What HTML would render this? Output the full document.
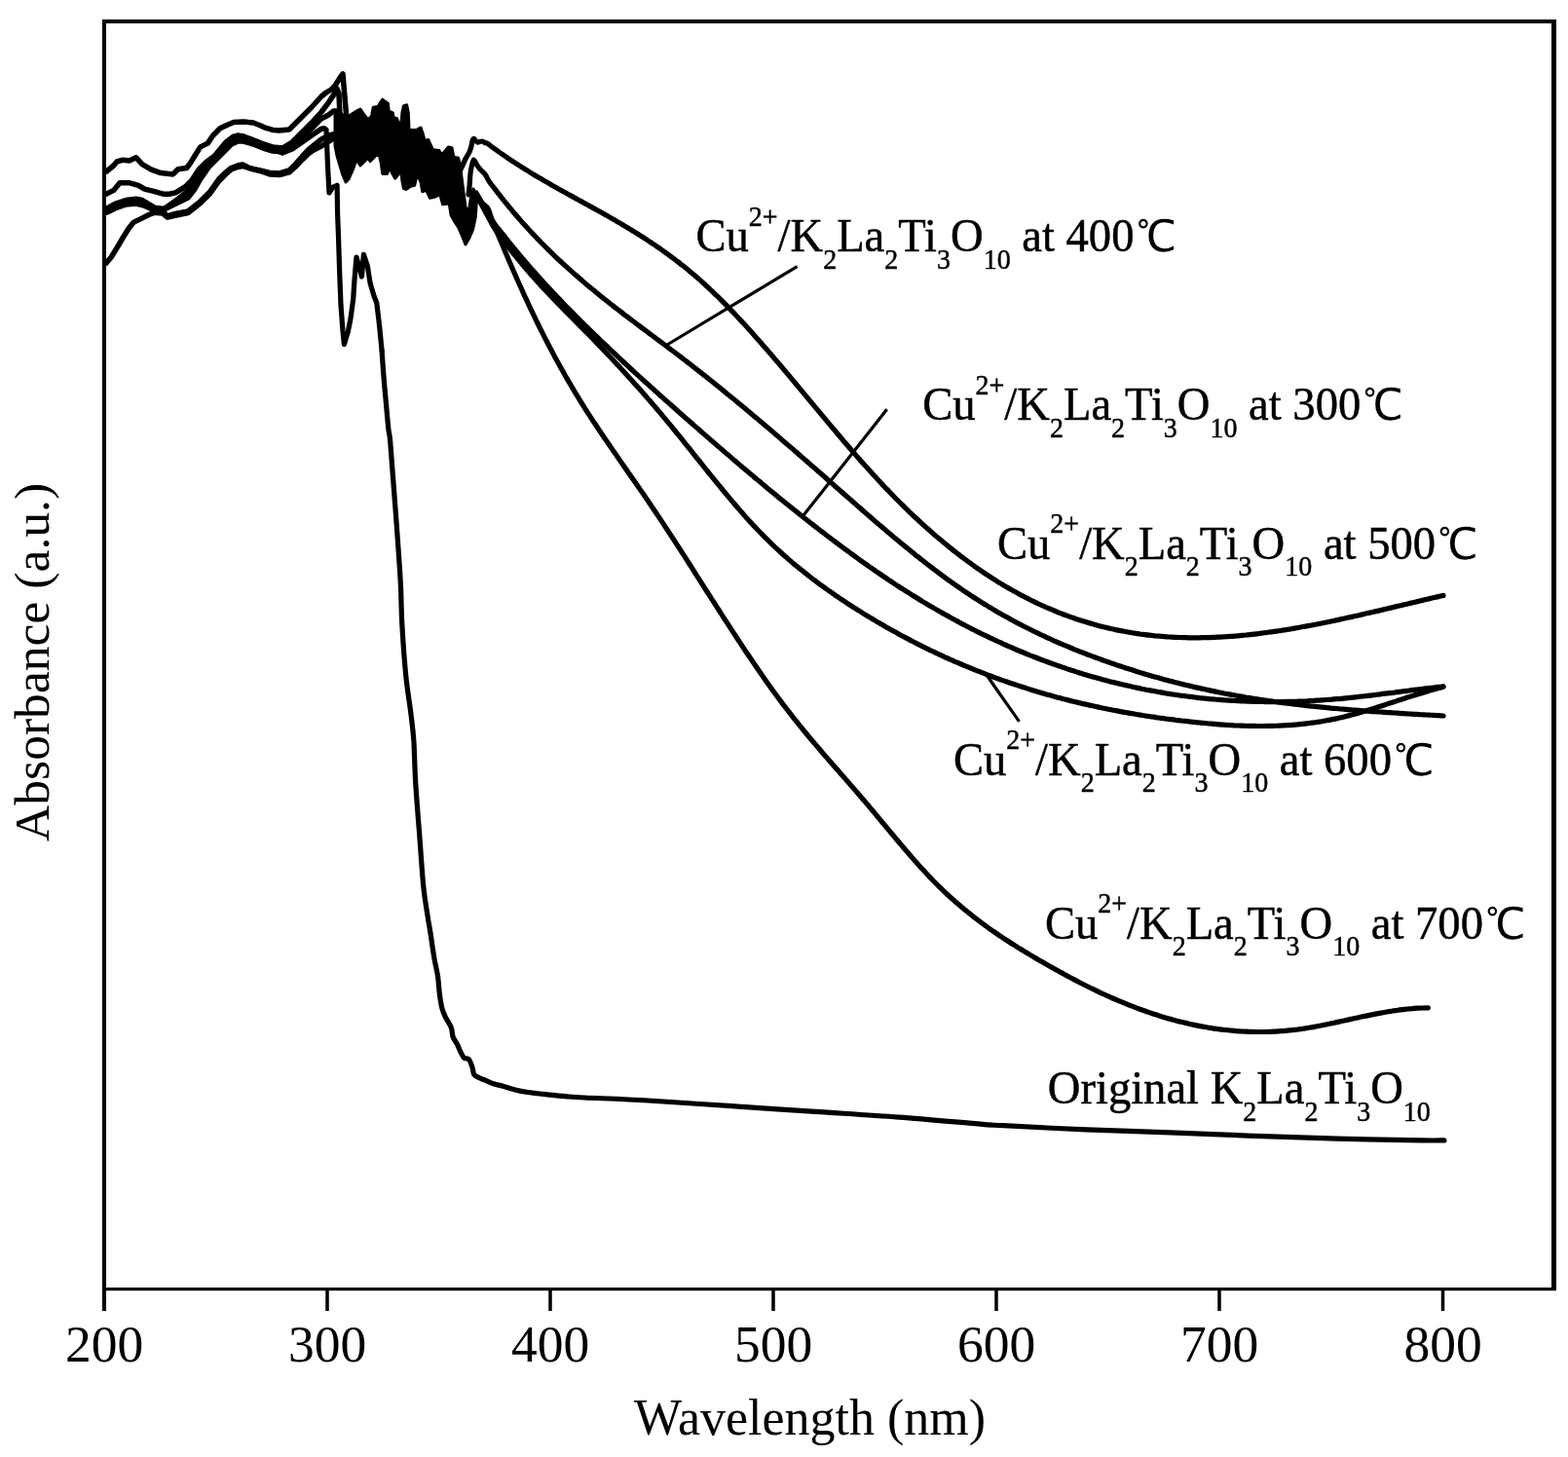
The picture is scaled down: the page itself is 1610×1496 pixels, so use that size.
<!DOCTYPE html>
<html><head><meta charset="utf-8"><title>UV-Vis absorbance spectra</title>
<style>
html,body{margin:0;padding:0;background:#fff;}
body{width:1610px;height:1496px;overflow:hidden;}
svg{display:block;}
.cjk{font-family:'WenQuanYi Zen Hei','Noto Serif CJK SC',sans-serif;}
</style></head>
<body>
<svg width="1610" height="1496" viewBox="0 0 1610 1496">
<rect x="0" y="0" width="1610" height="1496" fill="#fff"/>
<defs><clipPath id="plot"><rect x="108" y="23" width="1486" height="1300"/></clipPath></defs>
<g fill="#000">
<rect x="105" y="20" width="1493" height="4"/>
<rect x="105" y="20" width="4" height="1326"/>
<rect x="1593" y="20" width="5" height="1305"/>
<rect x="105" y="1322" width="1493" height="3.2"/>
<rect x="334.25" y="1324" width="3.5" height="22"/>
<rect x="563.25" y="1324" width="3.5" height="22"/>
<rect x="792.25" y="1324" width="3.5" height="22"/>
<rect x="1021.25" y="1324" width="3.5" height="22"/>
<rect x="1250.25" y="1324" width="3.5" height="22"/>
<rect x="1479.75" y="1324" width="3.5" height="22"/>
</g>
<g font-family="'Liberation Serif', 'Times New Roman', 'Noto Serif CJK SC', serif" font-size="53.5" text-anchor="middle" fill="#000">
<text x="107" y="1398">200</text>
<text x="336" y="1398">300</text>
<text x="565" y="1398">400</text>
<text x="794" y="1398">500</text>
<text x="1023" y="1398">600</text>
<text x="1252" y="1398">700</text>
<text x="1481.5" y="1398">800</text>
</g>
<text x="651" y="1472.6" font-family="'Liberation Serif', 'Times New Roman', 'Noto Serif CJK SC', serif" font-size="52" fill="#000">Wavelength (nm)</text>
<text transform="translate(50,864) rotate(-90)" x="0" y="0" font-family="'Liberation Serif', 'Times New Roman', 'Noto Serif CJK SC', serif" font-size="51.6" fill="#000">Absorbance (a.u.)</text>
<g fill="none" stroke="#000" stroke-width="5.2" stroke-linejoin="round" stroke-linecap="round">
<path d="M470.0,180.0 C470.7,178.7 472.7,174.8 474.0,172.0 C475.3,169.2 476.7,165.7 478.0,163.0 C479.3,160.3 481.0,158.2 482.0,156.0 C483.0,153.8 483.5,152.0 484.0,150.0 C484.5,148.0 484.7,145.2 485.2,144.0 C485.7,142.8 486.0,142.2 486.8,142.5 C487.6,142.8 488.7,145.6 490.0,146.0 C491.3,146.4 493.5,144.9 494.8,145.0 C496.1,145.1 497.1,146.1 498.0,146.5 C498.9,146.9 499.2,146.6 500.5,147.4 C501.8,148.1 503.8,149.9 505.5,151.1 C507.2,152.3 508.8,153.5 510.5,154.7 C512.2,155.9 513.8,157.1 515.5,158.2 C517.2,159.4 518.8,160.5 520.5,161.7 C522.2,162.8 523.8,163.9 525.5,165.0 C527.2,166.1 528.8,167.2 530.5,168.3 C532.2,169.4 533.8,170.4 535.5,171.5 C537.2,172.5 538.8,173.6 540.5,174.6 C542.2,175.6 543.8,176.7 545.5,177.7 C547.2,178.7 548.8,179.7 550.5,180.7 C552.2,181.7 553.8,182.6 555.5,183.6 C557.2,184.6 558.8,185.6 560.5,186.5 C562.2,187.5 563.8,188.5 565.5,189.4 C567.2,190.4 568.8,191.3 570.5,192.2 C572.2,193.2 573.8,194.1 575.5,195.1 C577.2,196.0 578.8,196.9 580.5,197.8 C582.2,198.8 583.8,199.7 585.5,200.6 C587.2,201.5 588.8,202.4 590.5,203.4 C592.2,204.3 593.8,205.2 595.5,206.1 C597.2,207.0 598.8,207.9 600.5,208.9 C602.2,209.8 603.8,210.7 605.5,211.6 C607.2,212.5 608.8,213.4 610.5,214.4 C612.2,215.3 613.8,216.2 615.5,217.1 C617.2,218.1 618.8,219.0 620.5,219.9 C622.2,220.9 623.8,221.8 625.5,222.8 C627.2,223.7 628.8,224.7 630.5,225.6 C632.2,226.6 633.8,227.6 635.5,228.5 C637.2,229.5 638.8,230.5 640.5,231.5 C642.2,232.5 643.8,233.5 645.5,234.5 C647.2,235.5 648.8,236.5 650.5,237.5 C652.2,238.5 653.8,239.6 655.5,240.6 C657.2,241.7 658.8,242.7 660.5,243.8 C662.2,244.9 663.8,246.0 665.5,247.1 C667.2,248.2 668.8,249.3 670.5,250.4 C672.2,251.5 673.8,252.6 675.5,253.8 C677.2,254.9 678.8,256.1 680.5,257.3 C682.2,258.5 683.8,259.7 685.5,260.9 C687.2,262.1 688.8,263.3 690.5,264.6 C692.2,265.8 693.8,267.1 695.5,268.4 C697.2,269.7 698.8,271.0 700.5,272.3 C702.2,273.6 703.8,274.9 705.5,276.3 C707.2,277.7 708.8,279.1 710.5,280.5 C712.2,281.9 713.8,283.3 715.5,284.7 C717.2,286.2 718.8,287.7 720.5,289.1 C722.2,290.6 723.8,292.2 725.5,293.7 C727.2,295.2 728.8,296.8 730.5,298.4 C732.2,300.0 733.8,301.6 735.5,303.2 C737.2,304.8 738.8,306.4 740.5,308.1 C742.2,309.8 743.8,311.4 745.5,313.1 C747.2,314.8 748.8,316.6 750.5,318.3 C752.2,320.0 753.8,321.8 755.5,323.5 C757.2,325.3 758.8,327.1 760.5,328.9 C762.2,330.7 763.8,332.5 765.5,334.3 C767.2,336.1 768.8,338.0 770.5,339.8 C772.2,341.7 773.8,343.5 775.5,345.4 C777.2,347.3 778.8,349.2 780.5,351.1 C782.2,353.0 783.8,354.9 785.5,356.8 C787.2,358.7 788.8,360.6 790.5,362.6 C792.2,364.5 793.8,366.4 795.5,368.4 C797.2,370.3 798.8,372.3 800.5,374.3 C802.2,376.2 803.8,378.2 805.5,380.2 C807.2,382.2 808.8,384.1 810.5,386.1 C812.2,388.1 813.8,390.1 815.5,392.1 C817.2,394.1 818.8,396.1 820.5,398.1 C822.2,400.1 823.8,402.1 825.5,404.1 C827.2,406.1 828.8,408.1 830.5,410.1 C832.2,412.1 833.8,414.1 835.5,416.1 C837.2,418.1 838.8,420.1 840.5,422.1 C842.2,424.1 843.8,426.1 845.5,428.1 C847.2,430.1 848.8,432.1 850.5,434.1 C852.2,436.1 853.8,438.1 855.5,440.1 C857.2,442.0 858.8,444.0 860.5,446.0 C862.2,447.9 863.8,449.9 865.5,451.9 C867.2,453.8 868.8,455.8 870.5,457.7 C872.2,459.7 873.8,461.6 875.5,463.5 C877.2,465.4 878.8,467.3 880.5,469.2 C882.2,471.2 883.8,473.0 885.5,474.9 C887.2,476.8 888.8,478.7 890.5,480.5 C892.2,482.4 893.8,484.2 895.5,486.1 C897.2,487.9 898.8,489.7 900.5,491.5 C902.2,493.3 903.8,495.1 905.5,496.9 C907.2,498.7 908.8,500.5 910.5,502.2 C912.2,503.9 913.8,505.7 915.5,507.4 C917.2,509.1 918.8,510.8 920.5,512.5 C922.2,514.2 923.8,515.8 925.5,517.5 C927.2,519.1 928.8,520.8 930.5,522.4 C932.2,524.0 933.8,525.6 935.5,527.2 C937.2,528.8 938.8,530.4 940.5,531.9 C942.2,533.5 943.8,535.0 945.5,536.6 C947.2,538.1 948.8,539.6 950.5,541.1 C952.2,542.6 953.8,544.1 955.5,545.5 C957.2,547.0 958.8,548.5 960.5,549.9 C962.2,551.3 963.8,552.7 965.5,554.1 C967.2,555.5 968.8,556.9 970.5,558.3 C972.2,559.7 973.8,561.0 975.5,562.4 C977.2,563.7 978.8,565.0 980.5,566.3 C982.2,567.7 983.8,568.9 985.5,570.2 C987.2,571.5 988.8,572.8 990.5,574.0 C992.2,575.3 993.8,576.5 995.5,577.7 C997.2,578.9 998.8,580.1 1000.5,581.3 C1002.2,582.5 1003.8,583.7 1005.5,584.8 C1007.2,586.0 1008.8,587.1 1010.5,588.2 C1012.2,589.3 1013.8,590.4 1015.5,591.5 C1017.2,592.6 1018.8,593.7 1020.5,594.8 C1022.2,595.8 1023.8,596.9 1025.5,597.9 C1027.2,598.9 1028.8,599.9 1030.5,600.9 C1032.2,601.9 1033.8,602.9 1035.5,603.9 C1037.2,604.8 1038.8,605.8 1040.5,606.7 C1042.2,607.6 1043.8,608.6 1045.5,609.5 C1047.2,610.4 1048.8,611.3 1050.5,612.1 C1052.2,613.0 1053.8,613.9 1055.5,614.7 C1057.2,615.5 1058.8,616.4 1060.5,617.2 C1062.2,618.0 1063.8,618.8 1065.5,619.6 C1067.2,620.4 1068.8,621.1 1070.5,621.9 C1072.2,622.6 1073.8,623.4 1075.5,624.1 C1077.2,624.8 1078.8,625.5 1080.5,626.2 C1082.2,626.9 1083.8,627.6 1085.5,628.3 C1087.2,629.0 1088.8,629.6 1090.5,630.3 C1092.2,630.9 1093.8,631.5 1095.5,632.1 C1097.2,632.8 1098.8,633.4 1100.5,633.9 C1102.2,634.5 1103.8,635.1 1105.5,635.7 C1107.2,636.2 1108.8,636.8 1110.5,637.3 C1112.2,637.8 1113.8,638.3 1115.5,638.8 C1117.2,639.4 1118.8,639.8 1120.5,640.3 C1122.2,640.8 1123.8,641.3 1125.5,641.7 C1127.2,642.2 1128.8,642.6 1130.5,643.1 C1132.2,643.5 1133.8,643.9 1135.5,644.3 C1137.2,644.7 1138.8,645.1 1140.5,645.5 C1142.2,645.8 1143.8,646.2 1145.5,646.6 C1147.2,646.9 1148.8,647.3 1150.5,647.6 C1152.2,647.9 1153.8,648.2 1155.5,648.5 C1157.2,648.8 1158.8,649.1 1160.5,649.4 C1162.2,649.7 1163.8,650.0 1165.5,650.2 C1167.2,650.5 1168.8,650.7 1170.5,651.0 C1172.2,651.2 1173.8,651.4 1175.5,651.6 C1177.2,651.9 1178.8,652.1 1180.5,652.2 C1182.2,652.4 1183.8,652.6 1185.5,652.8 C1187.2,652.9 1188.8,653.1 1190.5,653.2 C1192.2,653.4 1193.8,653.5 1195.5,653.6 C1197.2,653.8 1198.8,653.9 1200.5,654.0 C1202.2,654.1 1203.8,654.2 1205.5,654.3 C1207.2,654.4 1208.8,654.4 1210.5,654.5 C1212.2,654.6 1213.8,654.6 1215.5,654.6 C1217.2,654.7 1218.8,654.7 1220.5,654.8 C1222.2,654.8 1223.8,654.8 1225.5,654.8 C1227.2,654.8 1228.8,654.8 1230.5,654.8 C1232.2,654.8 1233.8,654.8 1235.5,654.7 C1237.2,654.7 1238.8,654.7 1240.5,654.6 C1242.2,654.6 1243.8,654.5 1245.5,654.4 C1247.2,654.4 1248.8,654.3 1250.5,654.2 C1252.2,654.1 1253.8,654.0 1255.5,653.9 C1257.2,653.9 1258.8,653.7 1260.5,653.6 C1262.2,653.5 1263.8,653.4 1265.5,653.3 C1267.2,653.1 1268.8,653.0 1270.5,652.9 C1272.2,652.7 1273.8,652.6 1275.5,652.4 C1277.2,652.3 1278.8,652.1 1280.5,651.9 C1282.2,651.7 1283.8,651.6 1285.5,651.4 C1287.2,651.2 1288.8,651.0 1290.5,650.8 C1292.2,650.6 1293.8,650.4 1295.5,650.2 C1297.2,650.0 1298.8,649.8 1300.5,649.5 C1302.2,649.3 1303.8,649.1 1305.5,648.8 C1307.2,648.6 1308.8,648.4 1310.5,648.1 C1312.2,647.9 1313.8,647.6 1315.5,647.4 C1317.2,647.1 1318.8,646.8 1320.5,646.6 C1322.2,646.3 1323.8,646.0 1325.5,645.8 C1327.2,645.5 1328.8,645.2 1330.5,644.9 C1332.2,644.6 1333.8,644.3 1335.5,644.0 C1337.2,643.7 1338.8,643.4 1340.5,643.1 C1342.2,642.8 1343.8,642.5 1345.5,642.2 C1347.2,641.9 1348.8,641.5 1350.5,641.2 C1352.2,640.9 1353.8,640.6 1355.5,640.2 C1357.2,639.9 1358.8,639.6 1360.5,639.2 C1362.2,638.9 1363.8,638.6 1365.5,638.2 C1367.2,637.9 1368.8,637.5 1370.5,637.2 C1372.2,636.8 1373.8,636.5 1375.5,636.1 C1377.2,635.7 1378.8,635.4 1380.5,635.0 C1382.2,634.7 1383.8,634.3 1385.5,633.9 C1387.2,633.5 1388.8,633.2 1390.5,632.8 C1392.2,632.4 1393.8,632.1 1395.5,631.7 C1397.2,631.3 1398.8,630.9 1400.5,630.5 C1402.2,630.2 1403.8,629.8 1405.5,629.4 C1407.2,629.0 1408.8,628.6 1410.5,628.2 C1412.2,627.8 1413.8,627.5 1415.5,627.1 C1417.2,626.7 1418.8,626.3 1420.5,625.9 C1422.2,625.5 1423.8,625.1 1425.5,624.7 C1427.2,624.3 1428.8,623.9 1430.5,623.5 C1432.2,623.1 1433.8,622.7 1435.5,622.3 C1437.2,621.9 1438.8,621.5 1440.5,621.1 C1442.2,620.8 1443.8,620.4 1445.5,620.0 C1447.2,619.6 1448.8,619.2 1450.5,618.8 C1452.2,618.4 1453.8,618.0 1455.5,617.6 C1457.2,617.2 1458.8,616.8 1460.5,616.4 C1462.2,616.0 1463.8,615.6 1465.5,615.2 C1467.2,614.8 1468.8,614.4 1470.5,614.0 C1472.2,613.6 1473.8,613.3 1475.5,612.9 C1477.2,612.5 1479.4,612.0 1480.5,611.7 C1481.6,611.5 1481.8,611.4 1482.0,611.4"/>
<path d="M481.0,200.0 C481.2,198.7 481.7,195.3 482.0,192.0 C482.3,188.7 482.5,183.3 482.8,180.0 C483.1,176.7 483.4,174.7 484.0,172.0 C484.6,169.3 485.4,164.3 486.4,164.0 C487.4,163.7 488.7,168.2 490.0,170.0 C491.3,171.8 492.7,173.4 494.0,174.9 C495.3,176.4 496.6,177.0 498.0,178.9 C499.4,180.8 500.6,183.8 502.1,186.1 C503.6,188.4 505.4,190.6 507.1,192.7 C508.8,194.9 510.4,197.1 512.1,199.2 C513.8,201.4 515.4,203.5 517.1,205.6 C518.8,207.6 520.4,209.7 522.1,211.7 C523.8,213.7 525.4,215.7 527.1,217.7 C528.8,219.7 530.4,221.6 532.1,223.5 C533.8,225.4 535.4,227.3 537.1,229.2 C538.8,231.1 540.4,232.9 542.1,234.7 C543.8,236.5 545.4,238.3 547.1,240.1 C548.8,241.9 550.4,243.6 552.1,245.4 C553.8,247.1 555.4,248.8 557.1,250.5 C558.8,252.2 560.4,253.8 562.1,255.5 C563.8,257.1 565.4,258.8 567.1,260.4 C568.8,262.0 570.4,263.6 572.1,265.2 C573.8,266.7 575.4,268.3 577.1,269.8 C578.8,271.4 580.4,272.9 582.1,274.4 C583.8,275.9 585.4,277.4 587.1,278.9 C588.8,280.4 590.4,281.8 592.1,283.3 C593.8,284.8 595.4,286.2 597.1,287.6 C598.8,289.1 600.4,290.5 602.1,291.9 C603.8,293.3 605.4,294.7 607.1,296.0 C608.8,297.4 610.4,298.8 612.1,300.2 C613.8,301.5 615.4,302.9 617.1,304.2 C618.8,305.6 620.4,306.9 622.1,308.2 C623.8,309.5 625.4,310.9 627.1,312.2 C628.8,313.5 630.4,314.8 632.1,316.1 C633.8,317.4 635.4,318.6 637.1,319.9 C638.8,321.2 640.4,322.5 642.1,323.8 C643.8,325.0 645.4,326.3 647.1,327.6 C648.8,328.8 650.4,330.1 652.1,331.3 C653.8,332.6 655.4,333.8 657.1,335.1 C658.8,336.4 660.4,337.6 662.1,338.8 C663.8,340.1 665.4,341.3 667.1,342.6 C668.8,343.8 670.4,345.1 672.1,346.3 C673.8,347.6 675.4,348.8 677.1,350.1 C678.8,351.3 680.4,352.6 682.1,353.8 C683.8,355.1 685.4,356.3 687.1,357.6 C688.8,358.8 690.4,360.1 692.1,361.3 C693.8,362.6 695.4,363.9 697.1,365.1 C698.8,366.4 700.4,367.7 702.1,369.0 C703.8,370.2 705.4,371.5 707.1,372.8 C708.8,374.1 710.4,375.4 712.1,376.7 C713.8,378.0 715.4,379.3 717.1,380.6 C718.8,381.9 720.4,383.2 722.1,384.6 C723.8,385.9 725.4,387.2 727.1,388.5 C728.8,389.9 730.4,391.2 732.1,392.5 C733.8,393.9 735.4,395.2 737.1,396.5 C738.8,397.9 740.4,399.2 742.1,400.6 C743.8,401.9 745.4,403.3 747.1,404.7 C748.8,406.0 750.4,407.4 752.1,408.8 C753.8,410.1 755.4,411.5 757.1,412.9 C758.8,414.3 760.4,415.6 762.1,417.0 C763.8,418.4 765.4,419.8 767.1,421.2 C768.8,422.6 770.4,424.0 772.1,425.4 C773.8,426.8 775.4,428.2 777.1,429.6 C778.8,431.0 780.4,432.4 782.1,433.8 C783.8,435.2 785.4,436.6 787.1,438.0 C788.8,439.4 790.4,440.9 792.1,442.3 C793.8,443.7 795.4,445.1 797.1,446.6 C798.8,448.0 800.4,449.4 802.1,450.9 C803.8,452.3 805.4,453.7 807.1,455.2 C808.8,456.6 810.4,458.0 812.1,459.5 C813.8,460.9 815.4,462.4 817.1,463.8 C818.8,465.3 820.4,466.7 822.1,468.2 C823.8,469.6 825.4,471.1 827.1,472.5 C828.8,474.0 830.4,475.4 832.1,476.9 C833.8,478.3 835.4,479.8 837.1,481.3 C838.8,482.7 840.4,484.2 842.1,485.6 C843.8,487.1 845.4,488.6 847.1,490.0 C848.8,491.5 850.4,493.0 852.1,494.4 C853.8,495.9 855.4,497.4 857.1,498.9 C858.8,500.3 860.4,501.8 862.1,503.3 C863.8,504.7 865.4,506.2 867.1,507.7 C868.8,509.1 870.4,510.6 872.1,512.1 C873.8,513.5 875.4,515.0 877.1,516.4 C878.8,517.9 880.4,519.4 882.1,520.8 C883.8,522.3 885.4,523.7 887.1,525.2 C888.8,526.6 890.4,528.1 892.1,529.5 C893.8,531.0 895.4,532.4 897.1,533.9 C898.8,535.3 900.4,536.7 902.1,538.2 C903.8,539.6 905.4,541.0 907.1,542.4 C908.8,543.9 910.4,545.3 912.1,546.7 C913.8,548.1 915.4,549.5 917.1,550.9 C918.8,552.3 920.4,553.7 922.1,555.1 C923.8,556.5 925.4,557.8 927.1,559.2 C928.8,560.6 930.4,562.0 932.1,563.3 C933.8,564.7 935.4,566.0 937.1,567.4 C938.8,568.7 940.4,570.1 942.1,571.4 C943.8,572.7 945.4,574.0 947.1,575.3 C948.8,576.7 950.4,578.0 952.1,579.3 C953.8,580.5 955.4,581.8 957.1,583.1 C958.8,584.4 960.4,585.6 962.1,586.9 C963.8,588.2 965.4,589.4 967.1,590.6 C968.8,591.9 970.4,593.1 972.1,594.3 C973.8,595.5 975.4,596.7 977.1,597.9 C978.8,599.1 980.4,600.3 982.1,601.4 C983.8,602.6 985.4,603.8 987.1,604.9 C988.8,606.0 990.4,607.2 992.1,608.3 C993.8,609.4 995.4,610.5 997.1,611.6 C998.8,612.7 1000.4,613.8 1002.1,614.8 C1003.8,615.9 1005.4,616.9 1007.1,618.0 C1008.8,619.0 1010.4,620.1 1012.1,621.1 C1013.8,622.1 1015.4,623.1 1017.1,624.1 C1018.8,625.1 1020.4,626.1 1022.1,627.1 C1023.8,628.0 1025.4,629.0 1027.1,630.0 C1028.8,630.9 1030.4,631.9 1032.1,632.8 C1033.8,633.7 1035.4,634.6 1037.1,635.6 C1038.8,636.5 1040.4,637.4 1042.1,638.3 C1043.8,639.1 1045.4,640.0 1047.1,640.9 C1048.8,641.8 1050.4,642.6 1052.1,643.5 C1053.8,644.3 1055.4,645.2 1057.1,646.0 C1058.8,646.8 1060.4,647.6 1062.1,648.5 C1063.8,649.3 1065.4,650.1 1067.1,650.9 C1068.8,651.7 1070.4,652.5 1072.1,653.2 C1073.8,654.0 1075.4,654.8 1077.1,655.5 C1078.8,656.3 1080.4,657.0 1082.1,657.8 C1083.8,658.5 1085.4,659.3 1087.1,660.0 C1088.8,660.7 1090.4,661.4 1092.1,662.1 C1093.8,662.8 1095.4,663.5 1097.1,664.2 C1098.8,664.9 1100.4,665.6 1102.1,666.3 C1103.8,667.0 1105.4,667.6 1107.1,668.3 C1108.8,669.0 1110.4,669.6 1112.1,670.3 C1113.8,670.9 1115.4,671.6 1117.1,672.2 C1118.8,672.8 1120.4,673.5 1122.1,674.1 C1123.8,674.7 1125.4,675.3 1127.1,675.9 C1128.8,676.5 1130.4,677.1 1132.1,677.7 C1133.8,678.3 1135.4,678.9 1137.1,679.5 C1138.8,680.1 1140.4,680.7 1142.1,681.3 C1143.8,681.8 1145.4,682.4 1147.1,683.0 C1148.8,683.5 1150.4,684.1 1152.1,684.6 C1153.8,685.2 1155.4,685.7 1157.1,686.3 C1158.8,686.8 1160.4,687.3 1162.1,687.8 C1163.8,688.4 1165.4,688.9 1167.1,689.4 C1168.8,689.9 1170.4,690.4 1172.1,690.9 C1173.8,691.4 1175.4,691.9 1177.1,692.4 C1178.8,692.9 1180.4,693.4 1182.1,693.9 C1183.8,694.4 1185.4,694.9 1187.1,695.3 C1188.8,695.8 1190.4,696.3 1192.1,696.7 C1193.8,697.2 1195.4,697.6 1197.1,698.1 C1198.8,698.5 1200.4,699.0 1202.1,699.4 C1203.8,699.8 1205.4,700.3 1207.1,700.7 C1208.8,701.1 1210.4,701.6 1212.1,702.0 C1213.8,702.4 1215.4,702.8 1217.1,703.2 C1218.8,703.6 1220.4,704.0 1222.1,704.4 C1223.8,704.8 1225.4,705.2 1227.1,705.6 C1228.8,706.0 1230.4,706.3 1232.1,706.7 C1233.8,707.1 1235.4,707.5 1237.1,707.8 C1238.8,708.2 1240.4,708.5 1242.1,708.9 C1243.8,709.3 1245.4,709.6 1247.1,709.9 C1248.8,710.3 1250.4,710.6 1252.1,711.0 C1253.8,711.3 1255.4,711.6 1257.1,712.0 C1258.8,712.3 1260.4,712.6 1262.1,712.9 C1263.8,713.2 1265.4,713.5 1267.1,713.8 C1268.8,714.1 1270.4,714.4 1272.1,714.7 C1273.8,715.0 1275.4,715.3 1277.1,715.6 C1278.8,715.9 1280.4,716.2 1282.1,716.4 C1283.8,716.7 1285.4,717.0 1287.1,717.3 C1288.8,717.5 1290.4,717.8 1292.1,718.0 C1293.8,718.3 1295.4,718.6 1297.1,718.8 C1298.8,719.1 1300.4,719.3 1302.1,719.5 C1303.8,719.8 1305.4,720.0 1307.1,720.2 C1308.8,720.5 1310.4,720.7 1312.1,720.9 C1313.8,721.2 1315.4,721.4 1317.1,721.6 C1318.8,721.8 1320.4,722.0 1322.1,722.2 C1323.8,722.4 1325.4,722.7 1327.1,722.9 C1328.8,723.1 1330.4,723.3 1332.1,723.5 C1333.8,723.6 1335.4,723.8 1337.1,724.0 C1338.8,724.2 1340.4,724.4 1342.1,724.6 C1343.8,724.8 1345.4,724.9 1347.1,725.1 C1348.8,725.3 1350.4,725.5 1352.1,725.6 C1353.8,725.8 1355.4,726.0 1357.1,726.1 C1358.8,726.3 1360.4,726.5 1362.1,726.6 C1363.8,726.8 1365.4,726.9 1367.1,727.1 C1368.8,727.2 1370.4,727.4 1372.1,727.5 C1373.8,727.7 1375.4,727.8 1377.1,728.0 C1378.8,728.1 1380.4,728.3 1382.1,728.4 C1383.8,728.5 1385.4,728.7 1387.1,728.8 C1388.8,728.9 1390.4,729.1 1392.1,729.2 C1393.8,729.3 1395.4,729.5 1397.1,729.6 C1398.8,729.7 1400.4,729.8 1402.1,730.0 C1403.8,730.1 1405.4,730.2 1407.1,730.3 C1408.8,730.5 1410.4,730.6 1412.1,730.7 C1413.8,730.8 1415.4,730.9 1417.1,731.0 C1418.8,731.1 1420.4,731.3 1422.1,731.4 C1423.8,731.5 1425.4,731.6 1427.1,731.7 C1428.8,731.8 1430.4,731.9 1432.1,732.0 C1433.8,732.1 1435.4,732.2 1437.1,732.3 C1438.8,732.4 1440.4,732.5 1442.1,732.7 C1443.8,732.8 1445.4,732.9 1447.1,733.0 C1448.8,733.1 1450.4,733.2 1452.1,733.3 C1453.8,733.4 1455.4,733.5 1457.1,733.6 C1458.8,733.7 1460.4,733.8 1462.1,733.9 C1463.8,734.0 1465.4,734.0 1467.1,734.1 C1468.8,734.2 1470.4,734.3 1472.1,734.4 C1473.8,734.5 1475.4,734.6 1477.1,734.7 C1478.8,734.8 1481.2,735.0 1482.0,735.0"/>
<path d="M489.0,198.0 C492.0,203.1 503.2,222.4 507.0,228.6 C510.8,234.8 510.3,233.0 512.0,235.1 C513.7,237.3 515.3,239.4 517.0,241.5 C518.7,243.6 520.3,245.7 522.0,247.8 C523.7,249.9 525.3,251.9 527.0,254.0 C528.7,256.0 530.3,258.0 532.0,260.0 C533.7,262.0 535.3,264.0 537.0,265.9 C538.7,267.9 540.3,269.8 542.0,271.8 C543.7,273.7 545.3,275.6 547.0,277.5 C548.7,279.4 550.3,281.2 552.0,283.1 C553.7,285.0 555.3,286.8 557.0,288.6 C558.7,290.5 560.3,292.3 562.0,294.1 C563.7,295.9 565.3,297.7 567.0,299.5 C568.7,301.3 570.3,303.0 572.0,304.8 C573.7,306.5 575.3,308.3 577.0,310.0 C578.7,311.7 580.3,313.4 582.0,315.2 C583.7,316.9 585.3,318.6 587.0,320.2 C588.7,321.9 590.3,323.6 592.0,325.3 C593.7,327.0 595.3,328.6 597.0,330.3 C598.7,331.9 600.3,333.6 602.0,335.2 C603.7,336.8 605.3,338.5 607.0,340.1 C608.7,341.7 610.3,343.3 612.0,345.0 C613.7,346.6 615.3,348.2 617.0,349.8 C618.7,351.4 620.3,353.0 622.0,354.5 C623.7,356.1 625.3,357.7 627.0,359.3 C628.7,360.9 630.3,362.4 632.0,364.0 C633.7,365.6 635.3,367.1 637.0,368.7 C638.7,370.2 640.3,371.8 642.0,373.3 C643.7,374.9 645.3,376.4 647.0,378.0 C648.7,379.5 650.3,381.0 652.0,382.6 C653.7,384.1 655.3,385.6 657.0,387.1 C658.7,388.7 660.3,390.2 662.0,391.7 C663.7,393.2 665.3,394.7 667.0,396.2 C668.7,397.7 670.3,399.2 672.0,400.7 C673.7,402.2 675.3,403.7 677.0,405.2 C678.7,406.7 680.3,408.2 682.0,409.7 C683.7,411.1 685.3,412.6 687.0,414.1 C688.7,415.6 690.3,417.1 692.0,418.5 C693.7,420.0 695.3,421.5 697.0,423.0 C698.7,424.4 700.3,425.9 702.0,427.4 C703.7,428.8 705.3,430.3 707.0,431.8 C708.7,433.2 710.3,434.7 712.0,436.2 C713.7,437.6 715.3,439.1 717.0,440.5 C718.7,442.0 720.3,443.5 722.0,444.9 C723.7,446.4 725.3,447.8 727.0,449.3 C728.7,450.7 730.3,452.2 732.0,453.6 C733.7,455.1 735.3,456.5 737.0,457.9 C738.7,459.4 740.3,460.8 742.0,462.3 C743.7,463.7 745.3,465.1 747.0,466.6 C748.7,468.0 750.3,469.4 752.0,470.9 C753.7,472.3 755.3,473.7 757.0,475.1 C758.7,476.6 760.3,478.0 762.0,479.4 C763.7,480.8 765.3,482.2 767.0,483.6 C768.7,485.0 770.3,486.4 772.0,487.8 C773.7,489.2 775.3,490.6 777.0,492.0 C778.7,493.4 780.3,494.8 782.0,496.2 C783.7,497.6 785.3,499.0 787.0,500.4 C788.7,501.8 790.3,503.1 792.0,504.5 C793.7,505.9 795.3,507.3 797.0,508.6 C798.7,510.0 800.3,511.4 802.0,512.7 C803.7,514.1 805.3,515.4 807.0,516.8 C808.7,518.1 810.3,519.5 812.0,520.8 C813.7,522.2 815.3,523.5 817.0,524.8 C818.7,526.2 820.3,527.5 822.0,528.8 C823.7,530.1 825.3,531.5 827.0,532.8 C828.7,534.1 830.3,535.4 832.0,536.7 C833.7,538.0 835.3,539.3 837.0,540.6 C838.7,541.9 840.3,543.2 842.0,544.5 C843.7,545.8 845.3,547.0 847.0,548.3 C848.7,549.6 850.3,550.9 852.0,552.1 C853.7,553.4 855.3,554.6 857.0,555.9 C858.7,557.2 860.3,558.4 862.0,559.6 C863.7,560.9 865.3,562.1 867.0,563.4 C868.7,564.6 870.3,565.8 872.0,567.0 C873.7,568.2 875.3,569.5 877.0,570.7 C878.7,571.9 880.3,573.1 882.0,574.3 C883.7,575.5 885.3,576.6 887.0,577.8 C888.7,579.0 890.3,580.2 892.0,581.4 C893.7,582.5 895.3,583.7 897.0,584.8 C898.7,586.0 900.3,587.1 902.0,588.3 C903.7,589.4 905.3,590.6 907.0,591.7 C908.7,592.8 910.3,593.9 912.0,595.1 C913.7,596.2 915.3,597.3 917.0,598.4 C918.7,599.5 920.3,600.6 922.0,601.7 C923.7,602.7 925.3,603.8 927.0,604.9 C928.7,606.0 930.3,607.0 932.0,608.1 C933.7,609.1 935.3,610.2 937.0,611.2 C938.7,612.3 940.3,613.3 942.0,614.3 C943.7,615.4 945.3,616.4 947.0,617.4 C948.7,618.4 950.3,619.4 952.0,620.4 C953.7,621.4 955.3,622.4 957.0,623.3 C958.7,624.3 960.3,625.3 962.0,626.2 C963.7,627.2 965.3,628.2 967.0,629.1 C968.7,630.0 970.3,631.0 972.0,631.9 C973.7,632.8 975.3,633.8 977.0,634.7 C978.7,635.6 980.3,636.5 982.0,637.4 C983.7,638.3 985.3,639.2 987.0,640.1 C988.7,640.9 990.3,641.8 992.0,642.7 C993.7,643.6 995.3,644.4 997.0,645.3 C998.7,646.1 1000.3,647.0 1002.0,647.8 C1003.7,648.6 1005.3,649.4 1007.0,650.3 C1008.7,651.1 1010.3,651.9 1012.0,652.7 C1013.7,653.5 1015.3,654.3 1017.0,655.1 C1018.7,655.9 1020.3,656.7 1022.0,657.4 C1023.7,658.2 1025.3,659.0 1027.0,659.7 C1028.7,660.5 1030.3,661.2 1032.0,662.0 C1033.7,662.7 1035.3,663.5 1037.0,664.2 C1038.7,664.9 1040.3,665.6 1042.0,666.3 C1043.7,667.1 1045.3,667.8 1047.0,668.5 C1048.7,669.2 1050.3,669.8 1052.0,670.5 C1053.7,671.2 1055.3,671.9 1057.0,672.6 C1058.7,673.2 1060.3,673.9 1062.0,674.5 C1063.7,675.2 1065.3,675.8 1067.0,676.5 C1068.7,677.1 1070.3,677.7 1072.0,678.4 C1073.7,679.0 1075.3,679.6 1077.0,680.2 C1078.7,680.8 1080.3,681.4 1082.0,682.0 C1083.7,682.6 1085.3,683.2 1087.0,683.8 C1088.7,684.3 1090.3,684.9 1092.0,685.5 C1093.7,686.1 1095.3,686.6 1097.0,687.2 C1098.7,687.7 1100.3,688.3 1102.0,688.8 C1103.7,689.3 1105.3,689.9 1107.0,690.4 C1108.7,690.9 1110.3,691.4 1112.0,691.9 C1113.7,692.4 1115.3,692.9 1117.0,693.4 C1118.7,693.9 1120.3,694.4 1122.0,694.9 C1123.7,695.4 1125.3,695.8 1127.0,696.3 C1128.7,696.8 1130.3,697.2 1132.0,697.7 C1133.7,698.1 1135.3,698.6 1137.0,699.0 C1138.7,699.4 1140.3,699.9 1142.0,700.3 C1143.7,700.7 1145.3,701.1 1147.0,701.5 C1148.7,701.9 1150.3,702.3 1152.0,702.7 C1153.7,703.1 1155.3,703.5 1157.0,703.9 C1158.7,704.3 1160.3,704.7 1162.0,705.0 C1163.7,705.4 1165.3,705.8 1167.0,706.1 C1168.7,706.5 1170.3,706.8 1172.0,707.2 C1173.7,707.5 1175.3,707.8 1177.0,708.2 C1178.7,708.5 1180.3,708.8 1182.0,709.1 C1183.7,709.4 1185.3,709.7 1187.0,710.0 C1188.7,710.3 1190.3,710.6 1192.0,710.9 C1193.7,711.2 1195.3,711.5 1197.0,711.8 C1198.7,712.0 1200.3,712.3 1202.0,712.6 C1203.7,712.8 1205.3,713.1 1207.0,713.3 C1208.7,713.6 1210.3,713.8 1212.0,714.1 C1213.7,714.3 1215.3,714.5 1217.0,714.7 C1218.7,715.0 1220.3,715.2 1222.0,715.4 C1223.7,715.6 1225.3,715.8 1227.0,716.0 C1228.7,716.2 1230.3,716.4 1232.0,716.6 C1233.7,716.7 1235.3,716.9 1237.0,717.1 C1238.7,717.3 1240.3,717.4 1242.0,717.6 C1243.7,717.7 1245.3,717.9 1247.0,718.0 C1248.7,718.2 1250.3,718.3 1252.0,718.4 C1253.7,718.6 1255.3,718.7 1257.0,718.8 C1258.7,718.9 1260.3,719.1 1262.0,719.2 C1263.7,719.3 1265.3,719.4 1267.0,719.5 C1268.7,719.6 1270.3,719.7 1272.0,719.7 C1273.7,719.8 1275.3,719.9 1277.0,720.0 C1278.7,720.0 1280.3,720.1 1282.0,720.2 C1283.7,720.2 1285.3,720.3 1287.0,720.3 C1288.7,720.4 1290.3,720.4 1292.0,720.4 C1293.7,720.5 1295.3,720.5 1297.0,720.5 C1298.7,720.5 1300.3,720.6 1302.0,720.6 C1303.7,720.6 1305.3,720.6 1307.0,720.6 C1308.7,720.6 1310.3,720.6 1312.0,720.6 C1313.7,720.6 1315.3,720.5 1317.0,720.5 C1318.7,720.5 1320.3,720.5 1322.0,720.4 C1323.7,720.4 1325.3,720.4 1327.0,720.3 C1328.7,720.3 1330.3,720.2 1332.0,720.2 C1333.7,720.1 1335.3,720.0 1337.0,720.0 C1338.7,719.9 1340.3,719.8 1342.0,719.8 C1343.7,719.7 1345.3,719.6 1347.0,719.5 C1348.7,719.4 1350.3,719.3 1352.0,719.2 C1353.7,719.1 1355.3,719.0 1357.0,718.9 C1358.7,718.8 1360.3,718.7 1362.0,718.5 C1363.7,718.4 1365.3,718.3 1367.0,718.2 C1368.7,718.0 1370.3,717.9 1372.0,717.7 C1373.7,717.6 1375.3,717.5 1377.0,717.3 C1378.7,717.1 1380.3,717.0 1382.0,716.8 C1383.7,716.7 1385.3,716.5 1387.0,716.3 C1388.7,716.2 1390.3,716.0 1392.0,715.8 C1393.7,715.6 1395.3,715.4 1397.0,715.2 C1398.7,715.1 1400.3,714.9 1402.0,714.7 C1403.7,714.5 1405.3,714.3 1407.0,714.1 C1408.7,713.9 1410.3,713.7 1412.0,713.5 C1413.7,713.3 1415.3,713.1 1417.0,712.9 C1418.7,712.6 1420.3,712.4 1422.0,712.2 C1423.7,712.0 1425.3,711.8 1427.0,711.6 C1428.7,711.4 1430.3,711.2 1432.0,711.0 C1433.7,710.7 1435.3,710.5 1437.0,710.3 C1438.7,710.1 1440.3,709.9 1442.0,709.7 C1443.7,709.5 1445.3,709.2 1447.0,709.0 C1448.7,708.8 1450.3,708.6 1452.0,708.4 C1453.7,708.2 1455.3,708.0 1457.0,707.8 C1458.7,707.6 1460.3,707.4 1462.0,707.2 C1463.7,707.0 1465.3,706.8 1467.0,706.6 C1468.7,706.4 1470.3,706.2 1472.0,706.0 C1473.7,705.8 1475.3,705.6 1477.0,705.4 C1478.7,705.2 1481.2,705.0 1482.0,704.9"/>
<path d="M489.0,200.0 C492.0,205.5 503.2,226.5 507.0,233.2 C510.8,239.9 510.3,237.9 512.0,240.2 C513.7,242.5 515.3,244.8 517.0,247.0 C518.7,249.3 520.3,251.5 522.0,253.6 C523.7,255.8 525.3,257.9 527.0,260.0 C528.7,262.1 530.3,264.2 532.0,266.2 C533.7,268.3 535.3,270.3 537.0,272.3 C538.7,274.2 540.3,276.2 542.0,278.1 C543.7,280.0 545.3,281.9 547.0,283.8 C548.7,285.7 550.3,287.6 552.0,289.4 C553.7,291.2 555.3,293.1 557.0,294.9 C558.7,296.7 560.3,298.5 562.0,300.2 C563.7,302.0 565.3,303.8 567.0,305.5 C568.7,307.3 570.3,309.0 572.0,310.7 C573.7,312.4 575.3,314.1 577.0,315.8 C578.7,317.5 580.3,319.2 582.0,320.9 C583.7,322.6 585.3,324.3 587.0,326.0 C588.7,327.7 590.3,329.4 592.0,331.1 C593.7,332.7 595.3,334.4 597.0,336.1 C598.7,337.8 600.3,339.5 602.0,341.2 C603.7,342.8 605.3,344.5 607.0,346.2 C608.7,347.9 610.3,349.7 612.0,351.4 C613.7,353.1 615.3,354.8 617.0,356.5 C618.7,358.3 620.3,360.0 622.0,361.8 C623.7,363.5 625.3,365.3 627.0,367.0 C628.7,368.8 630.3,370.6 632.0,372.4 C633.7,374.1 635.3,375.9 637.0,377.7 C638.7,379.5 640.3,381.4 642.0,383.2 C643.7,385.0 645.3,386.8 647.0,388.7 C648.7,390.5 650.3,392.4 652.0,394.2 C653.7,396.1 655.3,397.9 657.0,399.8 C658.7,401.7 660.3,403.6 662.0,405.5 C663.7,407.4 665.3,409.3 667.0,411.2 C668.7,413.2 670.3,415.1 672.0,417.0 C673.7,419.0 675.3,420.9 677.0,422.9 C678.7,424.9 680.3,426.9 682.0,428.9 C683.7,430.9 685.3,432.9 687.0,434.9 C688.7,436.9 690.3,438.9 692.0,441.0 C693.7,443.0 695.3,445.1 697.0,447.1 C698.7,449.2 700.3,451.2 702.0,453.3 C703.7,455.4 705.3,457.5 707.0,459.5 C708.7,461.6 710.3,463.7 712.0,465.8 C713.7,467.9 715.3,470.0 717.0,472.0 C718.7,474.1 720.3,476.2 722.0,478.3 C723.7,480.4 725.3,482.4 727.0,484.5 C728.7,486.6 730.3,488.7 732.0,490.7 C733.7,492.8 735.3,494.8 737.0,496.9 C738.7,498.9 740.3,500.9 742.0,503.0 C743.7,505.0 745.3,507.0 747.0,509.0 C748.7,511.0 750.3,513.0 752.0,514.9 C753.7,516.9 755.3,518.9 757.0,520.8 C758.7,522.7 760.3,524.6 762.0,526.5 C763.7,528.4 765.3,530.3 767.0,532.2 C768.7,534.0 770.3,535.9 772.0,537.7 C773.7,539.5 775.3,541.2 777.0,543.0 C778.7,544.8 780.3,546.5 782.0,548.2 C783.7,549.9 785.3,551.6 787.0,553.2 C788.7,554.9 790.3,556.5 792.0,558.1 C793.7,559.7 795.3,561.3 797.0,562.9 C798.7,564.4 800.3,566.0 802.0,567.5 C803.7,569.0 805.3,570.5 807.0,571.9 C808.7,573.4 810.3,574.9 812.0,576.3 C813.7,577.7 815.3,579.1 817.0,580.5 C818.7,581.9 820.3,583.3 822.0,584.6 C823.7,586.0 825.3,587.3 827.0,588.6 C828.7,590.0 830.3,591.3 832.0,592.5 C833.7,593.8 835.3,595.1 837.0,596.3 C838.7,597.6 840.3,598.8 842.0,600.1 C843.7,601.3 845.3,602.5 847.0,603.7 C848.7,604.9 850.3,606.1 852.0,607.2 C853.7,608.4 855.3,609.5 857.0,610.7 C858.7,611.8 860.3,613.0 862.0,614.1 C863.7,615.2 865.3,616.3 867.0,617.4 C868.7,618.5 870.3,619.6 872.0,620.7 C873.7,621.8 875.3,622.9 877.0,623.9 C878.7,625.0 880.3,626.0 882.0,627.1 C883.7,628.1 885.3,629.2 887.0,630.2 C888.7,631.2 890.3,632.3 892.0,633.3 C893.7,634.3 895.3,635.3 897.0,636.3 C898.7,637.3 900.3,638.3 902.0,639.2 C903.7,640.2 905.3,641.2 907.0,642.1 C908.7,643.1 910.3,644.1 912.0,645.0 C913.7,645.9 915.3,646.9 917.0,647.8 C918.7,648.7 920.3,649.6 922.0,650.6 C923.7,651.5 925.3,652.4 927.0,653.3 C928.7,654.2 930.3,655.0 932.0,655.9 C933.7,656.8 935.3,657.7 937.0,658.5 C938.7,659.4 940.3,660.2 942.0,661.1 C943.7,661.9 945.3,662.8 947.0,663.6 C948.7,664.4 950.3,665.3 952.0,666.1 C953.7,666.9 955.3,667.7 957.0,668.5 C958.7,669.3 960.3,670.1 962.0,670.9 C963.7,671.6 965.3,672.4 967.0,673.2 C968.7,674.0 970.3,674.7 972.0,675.5 C973.7,676.2 975.3,677.0 977.0,677.7 C978.7,678.4 980.3,679.2 982.0,679.9 C983.7,680.6 985.3,681.3 987.0,682.0 C988.7,682.7 990.3,683.4 992.0,684.1 C993.7,684.8 995.3,685.5 997.0,686.2 C998.7,686.9 1000.3,687.6 1002.0,688.2 C1003.7,688.9 1005.3,689.5 1007.0,690.2 C1008.7,690.8 1010.3,691.5 1012.0,692.1 C1013.7,692.8 1015.3,693.4 1017.0,694.0 C1018.7,694.6 1020.3,695.2 1022.0,695.9 C1023.7,696.5 1025.3,697.1 1027.0,697.7 C1028.7,698.3 1030.3,698.9 1032.0,699.4 C1033.7,700.0 1035.3,700.6 1037.0,701.2 C1038.7,701.7 1040.3,702.3 1042.0,702.8 C1043.7,703.4 1045.3,704.0 1047.0,704.5 C1048.7,705.0 1050.3,705.6 1052.0,706.1 C1053.7,706.6 1055.3,707.2 1057.0,707.7 C1058.7,708.2 1060.3,708.7 1062.0,709.2 C1063.7,709.7 1065.3,710.2 1067.0,710.7 C1068.7,711.2 1070.3,711.7 1072.0,712.2 C1073.7,712.7 1075.3,713.1 1077.0,713.6 C1078.7,714.1 1080.3,714.5 1082.0,715.0 C1083.7,715.4 1085.3,715.9 1087.0,716.3 C1088.7,716.8 1090.3,717.2 1092.0,717.7 C1093.7,718.1 1095.3,718.5 1097.0,718.9 C1098.7,719.4 1100.3,719.8 1102.0,720.2 C1103.7,720.6 1105.3,721.0 1107.0,721.4 C1108.7,721.8 1110.3,722.2 1112.0,722.6 C1113.7,723.0 1115.3,723.3 1117.0,723.7 C1118.7,724.1 1120.3,724.5 1122.0,724.8 C1123.7,725.2 1125.3,725.6 1127.0,725.9 C1128.7,726.3 1130.3,726.6 1132.0,727.0 C1133.7,727.3 1135.3,727.7 1137.0,728.0 C1138.7,728.3 1140.3,728.7 1142.0,729.0 C1143.7,729.3 1145.3,729.6 1147.0,729.9 C1148.7,730.3 1150.3,730.6 1152.0,730.9 C1153.7,731.2 1155.3,731.5 1157.0,731.8 C1158.7,732.1 1160.3,732.4 1162.0,732.6 C1163.7,732.9 1165.3,733.2 1167.0,733.5 C1168.7,733.8 1170.3,734.0 1172.0,734.3 C1173.7,734.6 1175.3,734.8 1177.0,735.1 C1178.7,735.3 1180.3,735.6 1182.0,735.9 C1183.7,736.1 1185.3,736.3 1187.0,736.6 C1188.7,736.8 1190.3,737.1 1192.0,737.3 C1193.7,737.5 1195.3,737.7 1197.0,738.0 C1198.7,738.2 1200.3,738.4 1202.0,738.6 C1203.7,738.8 1205.3,739.0 1207.0,739.3 C1208.7,739.5 1210.3,739.7 1212.0,739.9 C1213.7,740.1 1215.3,740.3 1217.0,740.4 C1218.7,740.6 1220.3,740.8 1222.0,741.0 C1223.7,741.2 1225.3,741.4 1227.0,741.5 C1228.7,741.7 1230.3,741.9 1232.0,742.0 C1233.7,742.2 1235.3,742.4 1237.0,742.5 C1238.7,742.7 1240.3,742.8 1242.0,743.0 C1243.7,743.1 1245.3,743.3 1247.0,743.4 C1248.7,743.5 1250.3,743.7 1252.0,743.8 C1253.7,743.9 1255.3,744.0 1257.0,744.2 C1258.7,744.3 1260.3,744.4 1262.0,744.5 C1263.7,744.6 1265.3,744.7 1267.0,744.8 C1268.7,744.8 1270.3,744.9 1272.0,745.0 C1273.7,745.1 1275.3,745.1 1277.0,745.2 C1278.7,745.2 1280.3,745.3 1282.0,745.3 C1283.7,745.4 1285.3,745.4 1287.0,745.4 C1288.7,745.5 1290.3,745.5 1292.0,745.5 C1293.7,745.5 1295.3,745.5 1297.0,745.5 C1298.7,745.5 1300.3,745.5 1302.0,745.4 C1303.7,745.4 1305.3,745.4 1307.0,745.3 C1308.7,745.3 1310.3,745.2 1312.0,745.2 C1313.7,745.1 1315.3,745.0 1317.0,744.9 C1318.7,744.9 1320.3,744.8 1322.0,744.7 C1323.7,744.5 1325.3,744.4 1327.0,744.3 C1328.7,744.2 1330.3,744.0 1332.0,743.9 C1333.7,743.7 1335.3,743.6 1337.0,743.4 C1338.7,743.2 1340.3,743.0 1342.0,742.8 C1343.7,742.6 1345.3,742.4 1347.0,742.2 C1348.7,742.0 1350.3,741.7 1352.0,741.5 C1353.7,741.2 1355.3,741.0 1357.0,740.7 C1358.7,740.4 1360.3,740.1 1362.0,739.8 C1363.7,739.5 1365.3,739.2 1367.0,738.9 C1368.7,738.6 1370.3,738.2 1372.0,737.9 C1373.7,737.5 1375.3,737.1 1377.0,736.7 C1378.7,736.4 1380.3,736.0 1382.0,735.5 C1383.7,735.1 1385.3,734.7 1387.0,734.3 C1388.7,733.8 1390.3,733.4 1392.0,732.9 C1393.7,732.4 1395.3,732.0 1397.0,731.5 C1398.7,731.0 1400.3,730.5 1402.0,730.0 C1403.7,729.5 1405.3,729.0 1407.0,728.5 C1408.7,728.0 1410.3,727.5 1412.0,726.9 C1413.7,726.4 1415.3,725.9 1417.0,725.3 C1418.7,724.8 1420.3,724.3 1422.0,723.7 C1423.7,723.2 1425.3,722.6 1427.0,722.1 C1428.7,721.5 1430.3,721.0 1432.0,720.5 C1433.7,719.9 1435.3,719.4 1437.0,718.8 C1438.7,718.3 1440.3,717.7 1442.0,717.2 C1443.7,716.6 1445.3,716.1 1447.0,715.6 C1448.7,715.0 1450.3,714.5 1452.0,714.0 C1453.7,713.4 1455.3,712.9 1457.0,712.4 C1458.7,711.9 1460.3,711.4 1462.0,710.9 C1463.7,710.4 1465.3,709.9 1467.0,709.4 C1468.7,708.9 1470.3,708.4 1472.0,708.0 C1473.7,707.5 1475.3,707.1 1477.0,706.6 C1478.7,706.2 1481.2,705.6 1482.0,705.3"/>
<path d="M489.0,205.0 C490.8,206.3 497.3,209.4 500.0,212.7 C502.7,216.1 503.3,221.1 505.0,225.2 C506.7,229.3 508.3,233.4 510.0,237.4 C511.7,241.5 513.3,245.5 515.0,249.5 C516.7,253.5 518.3,257.5 520.0,261.4 C521.7,265.3 523.3,269.2 525.0,273.1 C526.7,276.9 528.3,280.7 530.0,284.5 C531.7,288.3 533.3,292.0 535.0,295.7 C536.7,299.4 538.3,303.1 540.0,306.7 C541.7,310.3 543.3,313.9 545.0,317.4 C546.7,320.9 548.3,324.4 550.0,327.8 C551.7,331.3 553.3,334.7 555.0,338.0 C556.7,341.3 558.3,344.6 560.0,347.9 C561.7,351.2 563.3,354.4 565.0,357.5 C566.7,360.7 568.3,363.8 570.0,366.9 C571.7,370.0 573.3,373.1 575.0,376.1 C576.7,379.1 578.3,382.0 580.0,385.0 C581.7,387.9 583.3,390.8 585.0,393.6 C586.7,396.5 588.3,399.3 590.0,402.1 C591.7,404.8 593.3,407.6 595.0,410.3 C596.7,413.0 598.3,415.7 600.0,418.3 C601.7,421.0 603.3,423.6 605.0,426.1 C606.7,428.7 608.3,431.3 610.0,433.8 C611.7,436.3 613.3,438.8 615.0,441.3 C616.7,443.8 618.3,446.2 620.0,448.7 C621.7,451.1 623.3,453.6 625.0,456.0 C626.7,458.4 628.3,460.9 630.0,463.3 C631.7,465.7 633.3,468.1 635.0,470.5 C636.7,472.9 638.3,475.3 640.0,477.7 C641.7,480.1 643.3,482.5 645.0,484.9 C646.7,487.3 648.3,489.7 650.0,492.1 C651.7,494.5 653.3,496.9 655.0,499.3 C656.7,501.7 658.3,504.1 660.0,506.5 C661.7,508.9 663.3,511.4 665.0,513.8 C666.7,516.3 668.3,518.7 670.0,521.2 C671.7,523.6 673.3,526.1 675.0,528.6 C676.7,531.1 678.3,533.6 680.0,536.1 C681.7,538.7 683.3,541.2 685.0,543.7 C686.7,546.3 688.3,548.8 690.0,551.4 C691.7,553.9 693.3,556.5 695.0,559.1 C696.7,561.7 698.3,564.2 700.0,566.8 C701.7,569.4 703.3,572.0 705.0,574.6 C706.7,577.2 708.3,579.8 710.0,582.4 C711.7,585.0 713.3,587.7 715.0,590.3 C716.7,592.9 718.3,595.5 720.0,598.1 C721.7,600.7 723.3,603.3 725.0,606.0 C726.7,608.6 728.3,611.2 730.0,613.8 C731.7,616.4 733.3,619.0 735.0,621.6 C736.7,624.2 738.3,626.8 740.0,629.4 C741.7,632.0 743.3,634.6 745.0,637.2 C746.7,639.7 748.3,642.3 750.0,644.9 C751.7,647.4 753.3,650.0 755.0,652.5 C756.7,655.1 758.3,657.6 760.0,660.1 C761.7,662.7 763.3,665.2 765.0,667.7 C766.7,670.2 768.3,672.7 770.0,675.1 C771.7,677.6 773.3,680.1 775.0,682.5 C776.7,685.0 778.3,687.4 780.0,689.8 C781.7,692.2 783.3,694.6 785.0,697.0 C786.7,699.3 788.3,701.7 790.0,704.0 C791.7,706.3 793.3,708.7 795.0,711.0 C796.7,713.2 798.3,715.5 800.0,717.8 C801.7,720.0 803.3,722.2 805.0,724.4 C806.7,726.6 808.3,728.8 810.0,730.9 C811.7,733.1 813.3,735.2 815.0,737.3 C816.7,739.4 818.3,741.5 820.0,743.6 C821.7,745.6 823.3,747.7 825.0,749.7 C826.7,751.7 828.3,753.8 830.0,755.8 C831.7,757.8 833.3,759.7 835.0,761.7 C836.7,763.7 838.3,765.6 840.0,767.6 C841.7,769.5 843.3,771.5 845.0,773.4 C846.7,775.3 848.3,777.2 850.0,779.2 C851.7,781.1 853.3,783.0 855.0,784.9 C856.7,786.8 858.3,788.7 860.0,790.6 C861.7,792.5 863.3,794.4 865.0,796.3 C866.7,798.2 868.3,800.1 870.0,802.0 C871.7,803.9 873.3,805.9 875.0,807.8 C876.7,809.7 878.3,811.6 880.0,813.5 C881.7,815.5 883.3,817.4 885.0,819.4 C886.7,821.3 888.3,823.3 890.0,825.3 C891.7,827.2 893.3,829.2 895.0,831.2 C896.7,833.2 898.3,835.2 900.0,837.2 C901.7,839.2 903.3,841.2 905.0,843.2 C906.7,845.2 908.3,847.2 910.0,849.2 C911.7,851.2 913.3,853.2 915.0,855.2 C916.7,857.2 918.3,859.2 920.0,861.2 C921.7,863.1 923.3,865.1 925.0,867.1 C926.7,869.1 928.3,871.0 930.0,873.0 C931.7,874.9 933.3,876.8 935.0,878.8 C936.7,880.7 938.3,882.6 940.0,884.5 C941.7,886.3 943.3,888.2 945.0,890.1 C946.7,891.9 948.3,893.7 950.0,895.5 C951.7,897.3 953.3,899.1 955.0,900.9 C956.7,902.6 958.3,904.3 960.0,906.0 C961.7,907.7 963.3,909.4 965.0,911.0 C966.7,912.6 968.3,914.2 970.0,915.8 C971.7,917.4 973.3,919.0 975.0,920.5 C976.7,922.0 978.3,923.5 980.0,925.0 C981.7,926.5 983.3,927.9 985.0,929.3 C986.7,930.8 988.3,932.2 990.0,933.6 C991.7,934.9 993.3,936.3 995.0,937.6 C996.7,939.0 998.3,940.3 1000.0,941.6 C1001.7,942.9 1003.3,944.2 1005.0,945.4 C1006.7,946.7 1008.3,947.9 1010.0,949.2 C1011.7,950.4 1013.3,951.6 1015.0,952.8 C1016.7,954.0 1018.3,955.1 1020.0,956.3 C1021.7,957.4 1023.3,958.6 1025.0,959.7 C1026.7,960.8 1028.3,962.0 1030.0,963.1 C1031.7,964.2 1033.3,965.2 1035.0,966.3 C1036.7,967.4 1038.3,968.5 1040.0,969.5 C1041.7,970.6 1043.3,971.6 1045.0,972.7 C1046.7,973.7 1048.3,974.7 1050.0,975.7 C1051.7,976.7 1053.3,977.8 1055.0,978.8 C1056.7,979.8 1058.3,980.8 1060.0,981.7 C1061.7,982.7 1063.3,983.7 1065.0,984.7 C1066.7,985.7 1068.3,986.6 1070.0,987.6 C1071.7,988.6 1073.3,989.5 1075.0,990.5 C1076.7,991.4 1078.3,992.4 1080.0,993.3 C1081.7,994.3 1083.3,995.2 1085.0,996.1 C1086.7,997.1 1088.3,998.0 1090.0,998.9 C1091.7,999.8 1093.3,1000.7 1095.0,1001.6 C1096.7,1002.5 1098.3,1003.4 1100.0,1004.3 C1101.7,1005.2 1103.3,1006.0 1105.0,1006.9 C1106.7,1007.8 1108.3,1008.6 1110.0,1009.5 C1111.7,1010.3 1113.3,1011.2 1115.0,1012.0 C1116.7,1012.8 1118.3,1013.7 1120.0,1014.5 C1121.7,1015.3 1123.3,1016.1 1125.0,1016.9 C1126.7,1017.7 1128.3,1018.5 1130.0,1019.3 C1131.7,1020.0 1133.3,1020.8 1135.0,1021.6 C1136.7,1022.3 1138.3,1023.1 1140.0,1023.8 C1141.7,1024.6 1143.3,1025.3 1145.0,1026.0 C1146.7,1026.7 1148.3,1027.4 1150.0,1028.1 C1151.7,1028.8 1153.3,1029.5 1155.0,1030.2 C1156.7,1030.9 1158.3,1031.6 1160.0,1032.2 C1161.7,1032.9 1163.3,1033.5 1165.0,1034.2 C1166.7,1034.8 1168.3,1035.4 1170.0,1036.0 C1171.7,1036.7 1173.3,1037.3 1175.0,1037.8 C1176.7,1038.4 1178.3,1039.0 1180.0,1039.6 C1181.7,1040.2 1183.3,1040.7 1185.0,1041.3 C1186.7,1041.8 1188.3,1042.3 1190.0,1042.9 C1191.7,1043.4 1193.3,1043.9 1195.0,1044.4 C1196.7,1044.9 1198.3,1045.4 1200.0,1045.9 C1201.7,1046.3 1203.3,1046.8 1205.0,1047.3 C1206.7,1047.7 1208.3,1048.2 1210.0,1048.6 C1211.7,1049.0 1213.3,1049.4 1215.0,1049.8 C1216.7,1050.2 1218.3,1050.6 1220.0,1051.0 C1221.7,1051.4 1223.3,1051.8 1225.0,1052.1 C1226.7,1052.5 1228.3,1052.8 1230.0,1053.1 C1231.7,1053.5 1233.3,1053.8 1235.0,1054.1 C1236.7,1054.4 1238.3,1054.7 1240.0,1055.0 C1241.7,1055.3 1243.3,1055.5 1245.0,1055.8 C1246.7,1056.0 1248.3,1056.3 1250.0,1056.5 C1251.7,1056.7 1253.3,1057.0 1255.0,1057.2 C1256.7,1057.4 1258.3,1057.6 1260.0,1057.7 C1261.7,1057.9 1263.3,1058.1 1265.0,1058.2 C1266.7,1058.4 1268.3,1058.5 1270.0,1058.7 C1271.7,1058.8 1273.3,1058.9 1275.0,1059.0 C1276.7,1059.1 1278.3,1059.2 1280.0,1059.2 C1281.7,1059.3 1283.3,1059.4 1285.0,1059.4 C1286.7,1059.5 1288.3,1059.5 1290.0,1059.5 C1291.7,1059.5 1293.3,1059.5 1295.0,1059.5 C1296.7,1059.5 1298.3,1059.5 1300.0,1059.5 C1301.7,1059.4 1303.3,1059.4 1305.0,1059.3 C1306.7,1059.2 1308.3,1059.2 1310.0,1059.1 C1311.7,1059.0 1313.3,1058.9 1315.0,1058.7 C1316.7,1058.6 1318.3,1058.5 1320.0,1058.3 C1321.7,1058.2 1323.3,1058.0 1325.0,1057.8 C1326.7,1057.7 1328.3,1057.5 1330.0,1057.3 C1331.7,1057.1 1333.3,1056.8 1335.0,1056.6 C1336.7,1056.4 1338.3,1056.1 1340.0,1055.9 C1341.7,1055.6 1343.3,1055.3 1345.0,1055.0 C1346.7,1054.8 1348.3,1054.5 1350.0,1054.2 C1351.7,1053.9 1353.3,1053.5 1355.0,1053.2 C1356.7,1052.9 1358.3,1052.6 1360.0,1052.2 C1361.7,1051.9 1363.3,1051.6 1365.0,1051.2 C1366.7,1050.9 1368.3,1050.5 1370.0,1050.2 C1371.7,1049.8 1373.3,1049.5 1375.0,1049.1 C1376.7,1048.7 1378.3,1048.4 1380.0,1048.0 C1381.7,1047.6 1383.3,1047.3 1385.0,1046.9 C1386.7,1046.5 1388.3,1046.2 1390.0,1045.8 C1391.7,1045.4 1393.3,1045.1 1395.0,1044.7 C1396.7,1044.4 1398.3,1044.0 1400.0,1043.6 C1401.7,1043.3 1403.3,1042.9 1405.0,1042.6 C1406.7,1042.2 1408.3,1041.9 1410.0,1041.6 C1411.7,1041.2 1413.3,1040.9 1415.0,1040.6 C1416.7,1040.3 1418.3,1040.0 1420.0,1039.7 C1421.7,1039.4 1423.3,1039.1 1425.0,1038.8 C1426.7,1038.5 1428.3,1038.3 1430.0,1038.0 C1431.7,1037.7 1433.3,1037.5 1435.0,1037.3 C1436.7,1037.0 1438.3,1036.8 1440.0,1036.6 C1441.7,1036.4 1443.3,1036.2 1445.0,1036.0 C1446.7,1035.9 1448.3,1035.7 1450.0,1035.6 C1451.7,1035.4 1453.3,1035.3 1455.0,1035.2 C1456.7,1035.1 1458.3,1035.0 1460.0,1035.0 C1461.7,1034.9 1464.0,1034.8 1465.0,1034.8 C1466.0,1034.8 1466.1,1034.8 1466.3,1034.8"/>
<path d="M392.1,360.3 C392.4,364.8 393.3,378.1 394.0,387.0 C394.7,395.9 395.6,405.0 396.4,413.8 C397.2,422.6 398.1,433.4 398.8,440.0 C399.5,446.6 399.7,442.4 400.7,453.6 C401.7,464.8 403.4,489.2 404.8,507.0 C406.2,524.8 407.7,544.9 408.8,560.5 C409.9,576.1 410.7,587.2 411.4,600.6 C412.1,614.0 411.9,625.1 412.8,640.7 C413.7,656.3 415.2,678.6 416.8,694.2 C418.4,709.8 420.8,723.3 422.1,734.3 C423.4,745.3 424.0,748.5 424.8,760.0 C425.6,771.5 425.7,787.3 426.7,803.5 C427.7,819.7 429.3,839.2 430.7,857.0 C432.1,874.8 433.4,896.6 434.8,910.4 C436.2,924.2 437.8,931.7 439.0,940.0 C440.2,948.3 441.2,952.6 442.3,960.0 C443.4,967.4 444.7,977.1 445.9,984.1 C447.1,991.1 448.6,996.1 449.5,1002.1 C450.4,1008.1 450.6,1014.8 451.3,1020.2 C452.0,1025.6 452.7,1030.6 453.7,1034.6 C454.7,1038.6 455.7,1040.8 457.3,1044.2 C458.9,1047.6 462.0,1051.7 463.3,1055.1 C464.6,1058.5 464.1,1061.9 465.1,1064.7 C466.1,1067.5 468.0,1069.3 469.3,1071.9 C470.6,1074.5 471.8,1077.9 473.0,1080.3 C474.2,1082.7 475.2,1085.2 476.6,1086.4 C478.0,1087.6 480.0,1086.0 481.4,1087.6 C482.8,1089.2 484.1,1093.4 485.0,1096.0 C485.9,1098.6 485.6,1101.4 486.8,1103.2 C488.0,1105.0 490.3,1105.8 492.2,1106.8 C494.1,1107.8 495.8,1108.2 498.2,1109.2 C500.6,1110.2 503.6,1111.8 506.6,1112.8 C509.6,1113.8 512.7,1114.2 516.3,1115.2 C519.9,1116.2 524.3,1117.8 528.3,1118.8 C532.3,1119.8 535.0,1120.5 540.3,1121.3 C545.6,1122.1 553.4,1123.0 560.0,1123.7 C566.6,1124.4 573.3,1125.2 580.0,1125.7 C586.7,1126.2 585.7,1126.3 600.0,1127.0 C614.3,1127.7 640.5,1128.5 665.7,1130.0 C690.9,1131.5 722.8,1133.8 751.4,1135.7 C780.0,1137.6 808.5,1139.5 837.1,1141.4 C865.7,1143.3 894.3,1144.9 922.9,1147.1 C951.5,1149.2 990.8,1152.9 1008.6,1154.3 C1026.5,1155.7 1012.1,1154.8 1030.0,1155.7 C1047.8,1156.6 1087.1,1158.7 1115.7,1159.9 C1144.3,1161.1 1172.8,1161.8 1201.4,1162.9 C1230.0,1164.0 1258.5,1165.3 1287.1,1166.3 C1315.7,1167.3 1344.3,1168.3 1372.9,1169.1 C1401.5,1169.9 1440.3,1170.6 1458.6,1170.9 C1476.9,1171.2 1478.9,1170.9 1482.9,1170.9"/>
<path d="M333.0,132.0 L335.0,133.0 L336.5,170.0 L338.0,198.0 L341.6,192.3 L346.1,190.3 L346.6,220.0 L347.4,240.0 L348.7,280.0 L350.0,313.5 L352.0,340.0 L353.4,353.6 L357.4,340.3 L360.0,327.0 L362.7,307.0 L364.0,287.0 L366.0,264.0 L368.7,273.4 L371.4,284.0 L373.4,261.4 L377.4,273.4 L380.1,290.8 L384.1,304.2 L386.8,311.0 L389.5,333.6 L392.1,360.3"/>
</g>
<g clip-path="url(#plot)" fill="none" stroke="#000" stroke-width="5.5" stroke-linejoin="round" stroke-linecap="round">
<path d="M107.0,176.3 L109.0,176.3 L116.7,170.0 L120.0,166.0 L125.6,164.3 L133.2,164.9 L139.6,161.7 L146.0,168.7 L154.8,173.8 L165.0,177.6 L177.7,178.9 L182.8,173.8 L191.7,172.5 L195.5,167.4 L200.0,160.0 L205.7,150.9 L213.3,147.1 L218.4,139.5 L226.0,131.8 L234.0,128.0 L240.0,125.4 L250.0,125.0 L260.0,126.0 L267.0,128.7 L273.0,131.4 L280.0,133.4 L287.0,134.0 L297.0,133.0 L303.0,127.0 L310.0,120.0 L320.0,110.0 L330.0,99.0 L335.0,95.0 L340.0,92.0 L344.0,88.0 L349.0,80.0 L352.0,76.0 L354.0,100.0 L356.0,123.0"/>
<path d="M107.0,199.2 L109.0,199.2 L116.7,195.4 L123.0,187.8 L133.2,187.8 L142.1,190.3 L148.5,194.1 L158.6,196.7 L167.5,199.2 L173.9,199.2 L180.2,197.9 L190.4,191.6 L196.8,185.2 L204.4,173.8 L212.0,166.2 L220.9,159.8 L228.5,150.9 L237.4,143.3 L244.0,139.0 L250.0,140.0 L260.0,144.0 L270.0,148.0 L280.0,151.0 L290.0,152.0 L300.0,146.0 L310.0,136.0 L320.0,126.0 L330.0,115.0 L337.7,104.8 L343.3,96.4 L346.0,91.0 L348.0,96.0 L349.0,120.0"/>
<path d="M107.0,214.0 L110.0,214.0 L118.0,209.4 L129.4,205.5 L139.6,204.3 L146.0,205.5 L152.3,209.4 L158.6,213.2 L165.0,214.0 L170.0,214.4 L180.2,209.4 L193.0,203.0 L200.0,194.0 L205.7,184.0 L214.5,171.2 L224.7,161.0 L237.4,148.4 L244.0,145.0 L250.0,145.0 L260.0,148.0 L270.0,152.0 L280.0,155.0 L290.0,156.0 L300.0,150.0 L310.0,141.0 L320.0,132.0 L330.0,121.7 L337.0,118.2 L342.6,114.0 L346.0,114.0"/>
<path d="M107.0,218.0 L110.0,218.0 L118.0,214.0 L129.4,210.0 L139.6,209.0 L146.0,210.5 L152.3,213.0 L158.6,216.0 L167.5,217.0 L171.3,222.0 L180.2,219.5 L193.0,217.0 L205.7,206.8 L215.8,196.7 L224.7,184.0 L231.1,177.6 L237.4,172.5 L244.0,170.0 L249.0,169.0 L257.0,172.9 L267.0,175.5 L277.0,178.9 L287.0,179.5 L297.0,176.9 L303.0,171.5 L310.0,164.2 L317.0,157.5 L322.0,154.0 L330.0,150.0 L338.0,145.0 L346.0,140.0"/>
<path d="M107.0,270.3 L109.0,270.3 L114.2,264.0 L120.5,253.8 L125.6,245.0 L132.0,234.8 L137.0,228.4 L144.7,224.6 L152.3,220.8 L158.6,218.3 L167.0,219.0 L172.0,223.0 L181.0,221.0 L193.0,218.5 L205.7,208.5 L215.8,198.5 L224.7,186.0 L231.1,179.5 L237.4,174.0 L244.0,171.5 L249.0,170.5 L257.0,173.0 L267.0,175.0 L277.0,177.5 L287.0,178.0 L297.0,175.0 L303.0,169.0 L310.0,161.0 L317.0,153.5 L322.0,149.5 L330.0,143.0 L338.0,139.0 L346.0,137.0"/>
<path d="M107.0,216.0 L110.0,216.0 L118.0,212.0 L129.4,208.0 L139.6,207.0 L146.0,208.0 L152.3,211.0 L158.6,214.5 L166.0,216.0 L172.0,212.0 L182.0,205.0 L192.0,197.0 L200.0,188.0 L206.0,179.0 L214.0,169.0 L223.0,157.0 L232.0,146.0 L240.0,140.0 L248.0,140.0 L258.0,143.0 L268.0,147.0 L280.0,152.0 L290.0,157.0 L300.0,153.0 L310.0,146.0 L320.0,139.0 L330.0,132.2 L333.0,132.0"/>
</g>
<path d="M344.0,118.0 L350.0,116.0 L355.0,121.0 L360.0,118.0 L366.0,114.0 L370.0,112.0 L374.0,118.0 L378.0,123.0 L381.6,119.0 L383.2,110.2 L388.0,109.4 L390.4,105.4 L392.8,102.2 L396.0,104.6 L398.4,106.2 L399.2,114.2 L403.3,115.8 L404.0,120.7 L407.3,121.5 L409.7,126.3 L410.5,130.3 L412.0,128.7 L412.9,115.8 L414.5,108.6 L417.7,107.8 L419.3,115.8 L420.1,135.1 L422.5,133.5 L426.5,133.5 L428.1,139.9 L428.9,132.7 L432.1,131.1 L434.5,138.3 L436.1,144.7 L439.7,143.4 L444.4,153.7 L450.9,154.6 L453.7,159.3 L460.3,150.9 L464.0,151.8 L465.9,161.2 L470.5,162.1 L472.4,168.0 L474.0,182.0 L476.0,198.0 L478.0,212.0 L480.0,220.0 L482.0,212.0 L484.0,200.0 L486.0,194.0 L489.0,200.0 L489.0,212.0 L488.3,222.9 L485.5,236.0 L481.8,244.4 L478.0,251.0 L474.3,241.6 L470.5,233.2 L466.8,227.6 L463.1,221.0 L461.2,208.9 L454.6,209.8 L451.8,199.5 L446.2,202.3 L441.5,203.3 L438.7,197.6 L437.7,195.2 L433.7,196.8 L432.1,187.2 L429.7,181.6 L427.3,183.2 L425.7,190.4 L421.7,191.2 L416.9,194.4 L414.5,193.6 L412.9,185.6 L412.0,176.8 L409.7,178.4 L405.7,183.2 L402.5,177.6 L400.0,171.2 L397.6,178.4 L392.8,178.4 L391.2,167.2 L389.6,160.0 L386.4,159.2 L383.2,162.4 L380.0,165.6 L378.0,162.0 L374.0,166.0 L370.0,170.0 L366.0,164.0 L362.0,175.0 L358.0,184.0 L355.0,187.0 L352.0,180.0 L349.0,170.0 L346.0,160.0 L344.0,150.0 Z" fill="#000" stroke="#000" stroke-width="3" stroke-linejoin="round"/>
<g stroke="#000" stroke-width="3.2" stroke-linecap="butt">
<line x1="685" y1="354" x2="818.5" y2="273.6"/>
<line x1="825.1" y1="529.1" x2="910.7" y2="420.2"/>
<line x1="1011.8" y1="691.4" x2="1046.5" y2="740.9"/>
</g>
<g font-family="'Liberation Serif', 'Times New Roman', 'Noto Serif CJK SC', serif" fill="#000">
<text transform="translate(714.4,258.4) scale(1,1.02)" x="0" y="0" font-size="46.6" stroke="#000" stroke-width="0.45"><tspan>Cu</tspan><tspan font-size="28" dy="-26">2+</tspan><tspan dy="26">/K</tspan><tspan font-size="28" dy="17">2</tspan><tspan dy="-17">La</tspan><tspan font-size="28" dy="17">2</tspan><tspan dy="-17">Ti</tspan><tspan font-size="28" dy="17">3</tspan><tspan dy="-17">O</tspan><tspan font-size="28" dy="17">10</tspan><tspan dy="-17"> at 400</tspan><tspan class="cjk" font-size="44" dx="2.5" stroke="none">℃</tspan></text>
<text transform="translate(947.2,431.2) scale(1,1.02)" x="0" y="0" font-size="46.6" stroke="#000" stroke-width="0.45"><tspan>Cu</tspan><tspan font-size="28" dy="-26">2+</tspan><tspan dy="26">/K</tspan><tspan font-size="28" dy="17">2</tspan><tspan dy="-17">La</tspan><tspan font-size="28" dy="17">2</tspan><tspan dy="-17">Ti</tspan><tspan font-size="28" dy="17">3</tspan><tspan dy="-17">O</tspan><tspan font-size="28" dy="17">10</tspan><tspan dy="-17"> at 300</tspan><tspan class="cjk" font-size="44" dx="2.5" stroke="none">℃</tspan></text>
<text transform="translate(1024.0,573.7) scale(1,1.02)" x="0" y="0" font-size="46.6" stroke="#000" stroke-width="0.45"><tspan>Cu</tspan><tspan font-size="28" dy="-26">2+</tspan><tspan dy="26">/K</tspan><tspan font-size="28" dy="17">2</tspan><tspan dy="-17">La</tspan><tspan font-size="28" dy="17">2</tspan><tspan dy="-17">Ti</tspan><tspan font-size="28" dy="17">3</tspan><tspan dy="-17">O</tspan><tspan font-size="28" dy="17">10</tspan><tspan dy="-17"> at 500</tspan><tspan class="cjk" font-size="44" dx="2.5" stroke="none">℃</tspan></text>
<text transform="translate(978.9,795.7) scale(1,1.02)" x="0" y="0" font-size="46.6" stroke="#000" stroke-width="0.45"><tspan>Cu</tspan><tspan font-size="28" dy="-26">2+</tspan><tspan dy="26">/K</tspan><tspan font-size="28" dy="17">2</tspan><tspan dy="-17">La</tspan><tspan font-size="28" dy="17">2</tspan><tspan dy="-17">Ti</tspan><tspan font-size="28" dy="17">3</tspan><tspan dy="-17">O</tspan><tspan font-size="28" dy="17">10</tspan><tspan dy="-17"> at 600</tspan><tspan class="cjk" font-size="44" dx="2.5" stroke="none">℃</tspan></text>
<text transform="translate(1072.9,963.7) scale(1,1.02)" x="0" y="0" font-size="46.6" stroke="#000" stroke-width="0.45"><tspan>Cu</tspan><tspan font-size="28" dy="-26">2+</tspan><tspan dy="26">/K</tspan><tspan font-size="28" dy="17">2</tspan><tspan dy="-17">La</tspan><tspan font-size="28" dy="17">2</tspan><tspan dy="-17">Ti</tspan><tspan font-size="28" dy="17">3</tspan><tspan dy="-17">O</tspan><tspan font-size="28" dy="17">10</tspan><tspan dy="-17"> at 700</tspan><tspan class="cjk" font-size="44" dx="2.5" stroke="none">℃</tspan></text>
<text transform="translate(1075.8,1133.3) scale(1,1.02)" x="0" y="0" font-size="46.6" stroke="#000" stroke-width="0.45"><tspan>Original K</tspan><tspan font-size="28" dy="17">2</tspan><tspan dy="-17">La</tspan><tspan font-size="28" dy="17">2</tspan><tspan dy="-17">Ti</tspan><tspan font-size="28" dy="17">3</tspan><tspan dy="-17">O</tspan><tspan font-size="28" dy="17">10</tspan></text>
</g>
</svg>
</body></html>
